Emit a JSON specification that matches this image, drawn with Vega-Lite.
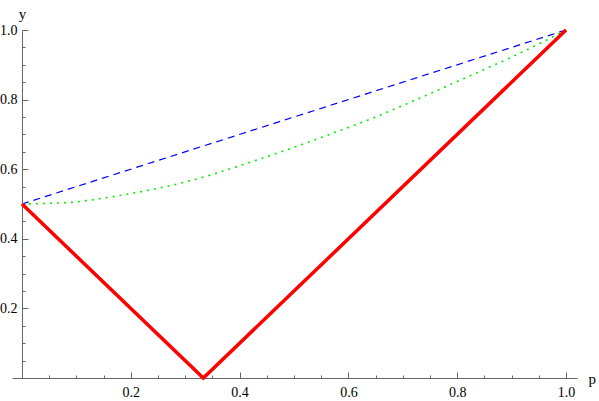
{
  "$schema": "https://vega.github.io/schema/vega-lite/v6.json",
  "width": 565,
  "height": 348,
  "autosize": {"type": "none"},
  "padding": {"left": 12, "top": 30, "right": 22, "bottom": 23},
  "background": "white",
  "config": {
    "view": {"stroke": null},
    "axis": {
      "grid": false,
      "domainColor": "#666666",
      "domainWidth": 1,
      "tickColor": "#666666",
      "tickWidth": 1,
      "labelFlush": false,
      "labelOverlap": false,
      "titleFont": "Liberation Serif",
      "titleFontSize": 15,
      "titleFontWeight": "normal",
      "titleColor": "#000000"
    }
  },
  "data": {
    "values": [
      {"series": "red", "p": 0, "y": 0.5},
      {"series": "red", "p": 0.3333, "y": 0},
      {"series": "red", "p": 1, "y": 1},
      {"series": "blue", "p": 0, "y": 0.5},
      {"series": "blue", "p": 1, "y": 1},
      {"series": "green", "p": 0, "y": 0.5},
      {"series": "green", "p": 0.05, "y": 0.502},
      {"series": "green", "p": 0.1, "y": 0.506},
      {"series": "green", "p": 0.15, "y": 0.517},
      {"series": "green", "p": 0.2, "y": 0.53},
      {"series": "green", "p": 0.25, "y": 0.545},
      {"series": "green", "p": 0.3, "y": 0.563},
      {"series": "green", "p": 0.35, "y": 0.585},
      {"series": "green", "p": 0.4, "y": 0.61},
      {"series": "green", "p": 0.45, "y": 0.636},
      {"series": "green", "p": 0.5, "y": 0.663},
      {"series": "green", "p": 0.55, "y": 0.691},
      {"series": "green", "p": 0.6, "y": 0.72},
      {"series": "green", "p": 0.65, "y": 0.75},
      {"series": "green", "p": 0.7, "y": 0.783},
      {"series": "green", "p": 0.75, "y": 0.817},
      {"series": "green", "p": 0.8, "y": 0.852},
      {"series": "green", "p": 0.85, "y": 0.887},
      {"series": "green", "p": 0.9, "y": 0.922},
      {"series": "green", "p": 0.95, "y": 0.96},
      {"series": "green", "p": 1, "y": 1}
    ]
  },
  "encoding": {
    "x": {
      "field": "p",
      "type": "quantitative",
      "scale": {"domain": [-0.01838, 1.0202], "nice": false, "zero": false},
      "axis": {
        "title": "p",
        "titleAngle": 0,
        "titleX": 576,
        "titleY": 0,
        "titleAlign": "left",
        "titleBaseline": "middle",
        "values": [0.05, 0.1, 0.15, 0.2, 0.25, 0.3, 0.35, 0.4, 0.45, 0.5, 0.55, 0.6, 0.65, 0.7, 0.75, 0.8, 0.85, 0.9, 0.95, 1.0],
        "labelExpr": "abs(datum.value*5 - round(datum.value*5)) < 0.000001 ? format(datum.value, '.1f') : ''",
        "tickSize": {"condition": {"test": "abs(datum.value*5 - round(datum.value*5)) < 0.000001", "value": -6}, "value": -3},
        "labelFont": "Liberation Serif",
        "labelFontSize": 14,
        "labelColor": "#000000",
        "labelPadding": 13
      }
    },
    "y": {
      "field": "y",
      "type": "quantitative",
      "scale": {"domain": [0, 1], "nice": false, "zero": false},
      "axis": {
        "title": "y",
        "titleAngle": 0,
        "titleX": 0,
        "titleY": -17,
        "titleAlign": "center",
        "titleBaseline": "middle",
        "offset": -10,
        "values": [0.05, 0.1, 0.15, 0.2, 0.25, 0.3, 0.35, 0.4, 0.45, 0.5, 0.55, 0.6, 0.65, 0.7, 0.75, 0.8, 0.85, 0.9, 0.95, 1.0],
        "labelExpr": "abs(datum.value*5 - round(datum.value*5)) < 0.000001 ? format(datum.value, '.1f') : ''",
        "tickSize": {"condition": {"test": "abs(datum.value*5 - round(datum.value*5)) < 0.000001", "value": -6}, "value": -3},
        "labelFont": "Liberation Serif",
        "labelFontSize": 14,
        "labelColor": "#000000",
        "labelPadding": 11
      }
    }
  },
  "layer": [
    {
      "transform": [{"filter": "datum.series === 'blue'"}],
      "mark": {"type": "line", "color": "#0000ff", "strokeWidth": 1.2, "strokeDash": [7, 5]}
    },
    {
      "transform": [{"filter": "datum.series === 'green'"}],
      "mark": {"type": "line", "color": "#00ee00", "strokeWidth": 1.6, "strokeDash": [2, 5], "interpolate": "monotone"}
    },
    {
      "transform": [{"filter": "datum.series === 'red'"}],
      "mark": {"type": "line", "color": "#ff0000", "strokeWidth": 3.5}
    }
  ]
}
